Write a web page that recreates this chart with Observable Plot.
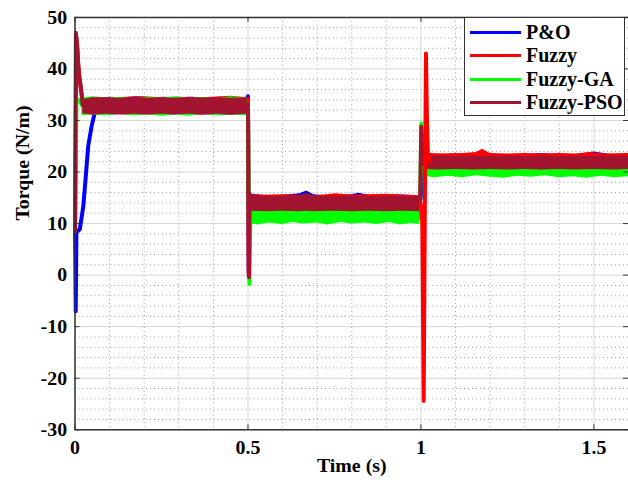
<!DOCTYPE html>
<html>
<head>
<meta charset="utf-8">
<script src="https://cdn.jsdelivr.net/npm/d3@7"></script>
<script src="https://cdn.jsdelivr.net/npm/@observablehq/plot@0.6"></script>
<style>
  html, body { margin: 0; padding: 0; background: #fff; overflow: hidden; }
  #wrap { position: relative; width: 628px; height: 489px; overflow: hidden; }
  #legend { position: absolute; left: 464px; top: 17px; width: 161px; height: 99px;
    border: 1px solid #333; background: #fff; box-sizing: border-box;
    font-family: "Liberation Serif", "Times New Roman", serif; font-weight: bold; font-size: 20px; color: #000; }
  .row { position: absolute; left: 0; height: 23px; display: flex; align-items: center; }
  .sw { width: 51px; height: 3px; margin-left: 5px; margin-right: 5px; }
</style>
</head>
<body>
<div id="wrap"><div id="legend"></div></div>
<script>
// ---- data ----
const seriesNames = ["P&O", "Fuzzy", "Fuzzy-GA", "Fuzzy-PSO"];
const seriesColors = ["#0000FF", "#FF0000", "#00FF00", "#A2142F"];

const xTicks = [0, 0.5, 1, 1.5];
const yTicks = [-30, -20, -10, 0, 10, 20, 30, 40, 50];
const xMinor = [0.1, 0.2, 0.3, 0.4, 0.6, 0.7, 0.8, 0.9, 1.1, 1.2, 1.3, 1.4, 1.6];
const yMinor = [-28, -26, -24, -22, -18, -16, -14, -12, -8, -6, -4, -2, 2, 4, 6, 8,
                12, 14, 16, 18, 22, 24, 26, 28, 32, 34, 36, 38, 42, 44, 46, 48];

// transient lines [t, torque]
const poLine = [[0, 10], [0.002, -7], [0.004, 8.3], [0.014, 8.9], [0.024, 13.4], [0.032, 19.9],
  [0.038, 25], [0.048, 28.9], [0.057, 31.5], [0.065, 32.6]];
const poStep1 = [[0.497, 33], [0.5, 34.7], [0.502, 0.5], [0.505, 15.5], [0.51, 14]];
const poStep2 = [[0.997, 14], [1.0, 15.3], [1.003, 27], [1.007, 22]];

const fuzzyLine = [[0, 8.5], [0.004, 46], [0.009, 41], [0.016, 36.5], [0.024, 33]];
const fuzzyStep1 = [[0.498, 33], [0.5, 34.2], [0.502, -0.2], [0.505, 15.6], [0.51, 14]];
const fuzzySpike = [[0.999, 14], [1.004, 10], [1.008, -24.4], [1.0115, 15], [1.0145, 43],
  [1.0175, 30], [1.02, 23.7], [1.026, 22]];

const gaLine = [[0, 8.5], [0.004, 33.5], [0.012, 34], [0.02, 33]];
const gaStep1 = [[0.498, 32], [0.5, 32.5], [0.504, -1.7], [0.507, 11.5], [0.512, 11]];
const gaStep2 = [[0.997, 11], [0.999, 20], [1.001, 29.4], [1.005, 21.5], [1.01, 20]];

const psoLine = [[0, 8.5], [0.0025, 47], [0.007, 44], [0.011, 38.5], [0.016, 37], [0.022, 33]];
const psoStep1 = [[0.498, 32.5], [0.5, 33], [0.503, -0.4], [0.505, 15.8], [0.51, 14]];
const psoStep2 = [[0.997, 13.5], [0.999, 20], [1.001, 28.8], [1.005, 22], [1.01, 21.5]];

// noise-band envelopes [t, low, high]
const poBand = [
  [0.057, 31.0, 32.5], [0.07, 31.1, 34.3], [0.1, 31.0, 34.5], [0.14, 31.2, 34.4], [0.18, 31.0, 34.6],
  [0.22, 31.1, 34.4], [0.26, 30.9, 34.5], [0.3, 31.1, 34.4], [0.34, 31.0, 34.5], [0.38, 31.1, 34.3],
  [0.42, 30.9, 34.5], [0.46, 31.0, 34.4], [0.498, 31.1, 34.5],
  [0.505, 12.3, 15.7], [0.54, 12.2, 15.5], [0.58, 12.3, 15.4], [0.62, 12.2, 15.6], [0.65, 12.3, 15.8],
  [0.67, 12.2, 16.3], [0.69, 12.3, 15.6], [0.73, 12.2, 15.4], [0.77, 12.3, 15.5], [0.8, 12.2, 15.6],
  [0.82, 12.3, 15.9], [0.85, 12.2, 15.5], [0.89, 12.3, 15.4], [0.93, 12.2, 15.6], [0.97, 12.3, 15.5],
  [0.997, 12.2, 15.3],
  [1.008, 20.3, 23.3], [1.05, 20.2, 23.4], [1.1, 20.3, 23.5], [1.15, 20.2, 23.3], [1.2, 20.3, 23.5],
  [1.25, 20.2, 23.3], [1.3, 20.3, 23.4], [1.35, 20.2, 23.6], [1.4, 20.3, 23.3], [1.45, 20.2, 23.4],
  [1.5, 20.3, 23.9], [1.55, 20.2, 23.4], [1.6, 20.3, 23.3]];
const fuzzyBand = [
  [0.024, 31.1, 34.2], [0.06, 31.0, 34.5], [0.1, 31.2, 34.4], [0.15, 31.0, 34.5], [0.2, 31.1, 34.6],
  [0.25, 31.0, 34.4], [0.3, 31.2, 34.5], [0.35, 31.0, 34.4], [0.4, 31.1, 34.5], [0.45, 31.0, 34.7],
  [0.498, 31.1, 34.4],
  [0.505, 12.3, 15.6], [0.55, 12.2, 15.5], [0.6, 12.3, 15.6], [0.65, 12.2, 15.5], [0.7, 12.3, 15.4],
  [0.755, 12.2, 15.8], [0.8, 12.3, 15.5], [0.85, 12.2, 15.6], [0.9, 12.3, 15.7], [0.95, 12.2, 15.5],
  [0.997, 12.3, 15.4],
  [1.026, 20.3, 23.6], [1.07, 20.2, 23.5], [1.12, 20.3, 23.6], [1.16, 20.2, 23.8], [1.178, 20.3, 24.4],
  [1.2, 20.2, 23.6], [1.25, 20.3, 23.5], [1.3, 20.2, 23.6], [1.35, 20.3, 23.5], [1.4, 20.2, 23.6],
  [1.45, 20.3, 23.5], [1.49, 20.2, 23.8], [1.53, 20.3, 23.5], [1.6, 20.2, 23.6]];
const gaBand = [
  [0.02, 30.9, 34.3], [0.05, 31.1, 34.6], [0.09, 30.9, 34.3], [0.13, 31.2, 34.5], [0.17, 30.9, 34.2],
  [0.21, 31.1, 34.5], [0.25, 30.8, 34.3], [0.29, 31.1, 34.6], [0.33, 30.8, 34.3], [0.37, 31.2, 34.4],
  [0.41, 30.9, 34.2], [0.45, 31.1, 34.6], [0.498, 30.9, 34.3],
  [0.507, 10.0, 12.8], [0.53, 9.7, 12.7], [0.56, 10.1, 12.8], [0.6, 9.8, 12.7], [0.63, 10.2, 12.8],
  [0.66, 9.9, 12.7], [0.7, 10.1, 12.8], [0.73, 9.7, 12.7], [0.77, 10.2, 12.8], [0.8, 9.9, 12.7],
  [0.84, 10.1, 12.8], [0.87, 9.8, 12.7], [0.91, 10.2, 12.8], [0.94, 9.7, 12.7], [0.97, 10.0, 12.8],
  [0.997, 9.8, 12.7],
  [1.008, 19.2, 21.0], [1.04, 18.9, 21.0], [1.08, 19.2, 21.0], [1.12, 18.9, 21.0], [1.16, 19.3, 21.0],
  [1.2, 19.0, 21.0], [1.24, 18.8, 21.0], [1.28, 19.2, 21.0], [1.32, 19.0, 21.0], [1.36, 19.3, 21.0],
  [1.4, 18.9, 21.0], [1.44, 19.1, 21.0], [1.48, 18.8, 21.0], [1.52, 19.2, 21.0], [1.56, 18.9, 21.0],
  [1.6, 19.1, 21.0]];
const psoBand = [
  [0.022, 31.3, 34.0], [0.05, 31.1, 34.4], [0.09, 31.2, 34.4], [0.13, 31.1, 34.3], [0.17, 31.2, 34.5],
  [0.21, 31.1, 34.3], [0.25, 31.2, 34.4], [0.29, 31.1, 34.3], [0.33, 31.2, 34.5], [0.37, 31.1, 34.3],
  [0.41, 31.2, 34.4], [0.45, 31.1, 34.3], [0.498, 31.2, 34.4],
  [0.505, 12.4, 15.5], [0.55, 12.3, 15.2], [0.6, 12.4, 15.3], [0.65, 12.3, 15.4], [0.67, 12.4, 15.9],
  [0.69, 12.3, 15.3], [0.75, 12.4, 15.2], [0.8, 12.3, 15.3], [0.85, 12.4, 15.2], [0.9, 12.3, 15.3],
  [0.95, 12.4, 15.2], [0.997, 12.3, 15.1],
  [1.01, 20.5, 23.0], [1.05, 20.4, 23.1], [1.1, 20.5, 23.0], [1.15, 20.4, 23.1], [1.2, 20.5, 23.0],
  [1.25, 20.4, 23.1], [1.3, 20.5, 23.0], [1.35, 20.4, 23.1], [1.4, 20.5, 23.0], [1.45, 20.4, 23.1],
  [1.5, 20.5, 23.0], [1.55, 20.4, 23.1], [1.6, 20.5, 23.0]];

// ---- chart ----
const font = "'Liberation Serif', 'Times New Roman', serif";
const segs = (band) => {
  // split a band into its continuous pieces at the load steps
  const out = [];
  let cur = [];
  band.forEach((d, i) => {
    if (i > 0 && Math.abs(d[1] - band[i - 1][1]) > 5) { out.push(cur); cur = []; }
    cur.push(d);
  });
  out.push(cur);
  return out;
};
const bandMarks = (band, color) => segs(band).map(s =>
  Plot.areaY(s, {x: d => d[0], y1: d => d[1], y2: d => d[2], fill: color, fillOpacity: 1}));
const lineMark = (pts, color) => Plot.line(pts, {x: d => d[0], y: d => d[1], stroke: color,
  strokeWidth: 4, strokeLinejoin: "round", strokeLinecap: "round"});

const plotW = 632, plotH = 489, mL = 75, mR = 0, mT = 17, mB = 57;
const innerW = plotW - mL - mR, innerH = plotH - mT - mB;
const tickLen = 5;

const chart = Plot.plot({
  width: plotW, height: plotH,
  marginLeft: mL, marginRight: mR, marginTop: mT, marginBottom: mB,
  x: {domain: [0, 1.6]},
  y: {domain: [yTicks[0], yTicks[yTicks.length - 1]]},
  style: {fontFamily: font, fontSize: "20px", fontWeight: "bold", color: "#000", background: "#fff"},
  marks: [
    Plot.gridX(xMinor, {stroke: "#9a9a9a", strokeOpacity: 1, strokeDasharray: "1,3"}),
    Plot.gridY(yMinor, {stroke: "#9a9a9a", strokeOpacity: 1, strokeDasharray: "1,3"}),
    Plot.gridX(xTicks, {stroke: "#d6d6d6", strokeOpacity: 1}),
    Plot.gridY(yTicks, {stroke: "#d6d6d6", strokeOpacity: 1}),
    // P&O
    ...bandMarks(poBand, seriesColors[0]),
    lineMark(poLine, seriesColors[0]), lineMark(poStep1, seriesColors[0]), lineMark(poStep2, seriesColors[0]),
    // Fuzzy
    ...bandMarks(fuzzyBand, seriesColors[1]),
    lineMark(fuzzyLine, seriesColors[1]), lineMark(fuzzyStep1, seriesColors[1]),
    // Fuzzy-GA
    ...bandMarks(gaBand, seriesColors[2]),
    lineMark(gaLine, seriesColors[2]), lineMark(gaStep1, seriesColors[2]), lineMark(gaStep2, seriesColors[2]),
    // Fuzzy-PSO
    ...bandMarks(psoBand, seriesColors[3]),
    lineMark(psoLine, seriesColors[3]), lineMark(psoStep1, seriesColors[3]), lineMark(psoStep2, seriesColors[3]),
    // Fuzzy spike at t = 1 s, on top
    lineMark(fuzzySpike, seriesColors[1]),
    // axes box
    Plot.ruleX([xTicks[0]], {stroke: "#333", strokeWidth: 1.5}),
    Plot.ruleY([yTicks[0]], {stroke: "#333", strokeWidth: 1.5}),
    Plot.ruleY([yTicks[yTicks.length - 1]], {stroke: "#333", strokeWidth: 1.5}),
    // inward ticks
    Plot.tickY(yTicks, {y: d => d, stroke: "#333", insetRight: innerW - tickLen}),
    Plot.tickY(yTicks, {y: d => d, stroke: "#333", insetLeft: innerW - tickLen}),
    Plot.tickX(xTicks, {x: d => d, stroke: "#333", insetTop: innerH - tickLen}),
    Plot.tickX(xTicks, {x: d => d, stroke: "#333", insetBottom: innerH - tickLen}),
    // tick labels
    Plot.axisX(xTicks, {tickSize: 0, tickPadding: 10, fontSize: 20, fontWeight: "bold", label: null,
      tickFormat: d => String(d)}),
    Plot.axisY(yTicks, {tickSize: 0, tickPadding: 8, fontSize: 20, fontWeight: "bold", label: null,
      tickFormat: d => String(d)}),
    // axis titles
    Plot.text(["Torque (N/m)"], {frameAnchor: "left", dx: -53, dy: -3, rotate: -90, fontSize: 20,
      fontWeight: "bold", fill: "#000"}),
    Plot.text(["Time (s)"], {frameAnchor: "bottom", dy: 43, fontSize: 20, fontWeight: "bold", fill: "#000"})
  ]
});
document.getElementById("wrap").prepend(chart);

// legend
const lg = document.getElementById("legend");
seriesNames.forEach((name, i) => {
  const row = document.createElement("div");
  row.className = "row";
  row.style.top = (3 + i * 23.3) + "px";
  const sw = document.createElement("div");
  sw.className = "sw";
  sw.style.background = seriesColors[i];
  const tx = document.createElement("span");
  tx.textContent = name;
  row.appendChild(sw); row.appendChild(tx);
  lg.appendChild(row);
});
</script>
</body>
</html>
